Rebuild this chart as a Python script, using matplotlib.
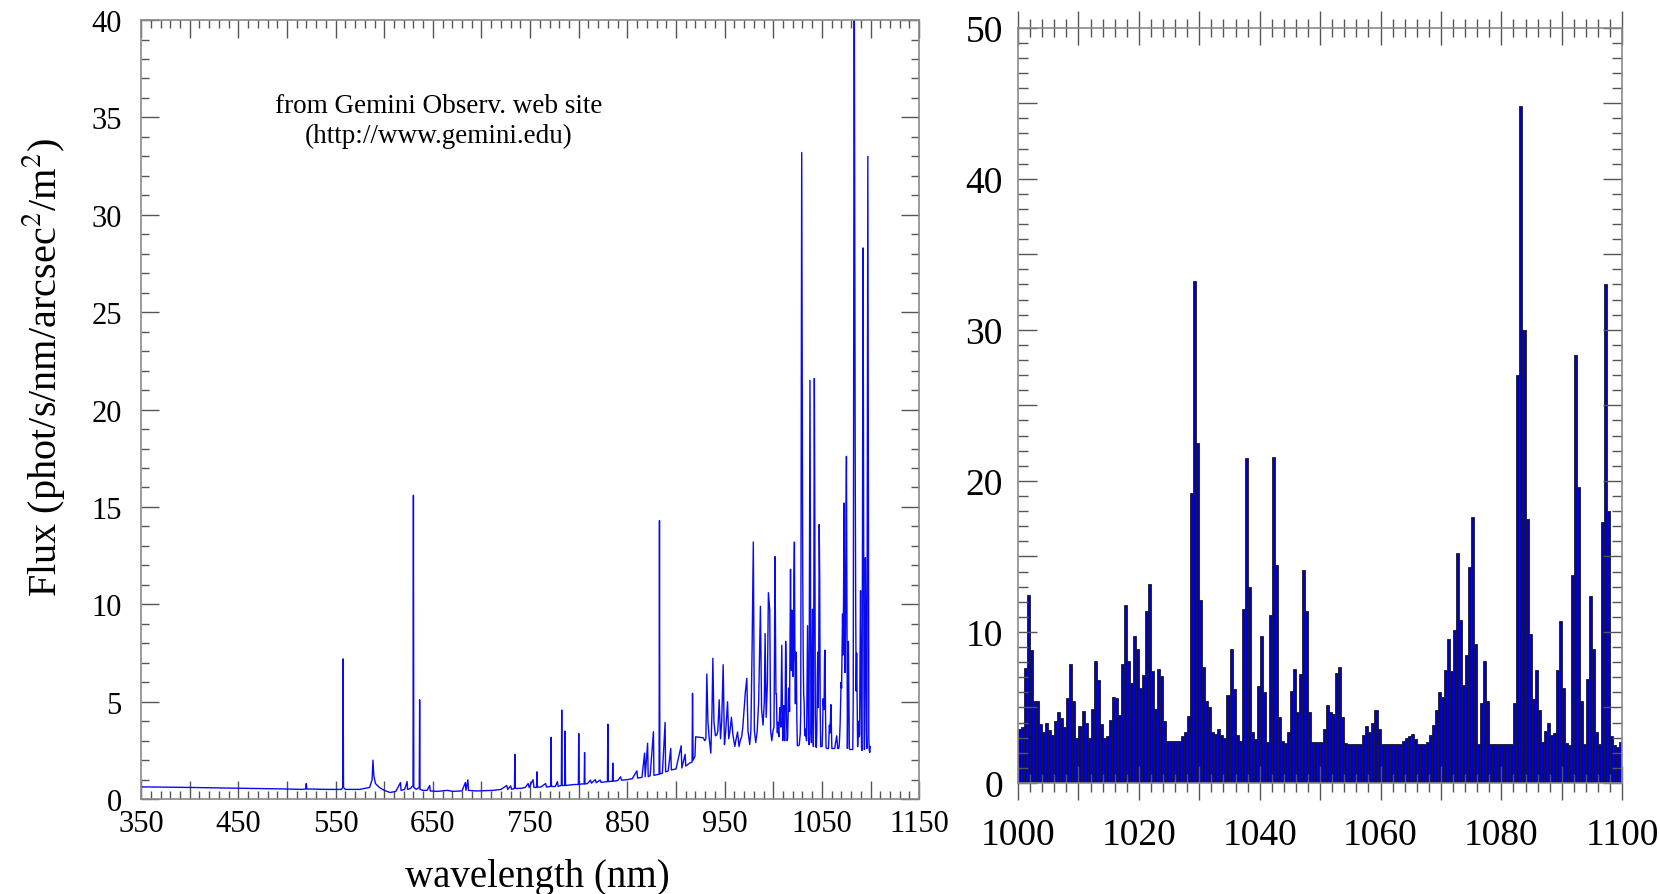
import numpy as np
from matplotlib import pyplot as plt
from matplotlib.ticker import MultipleLocator, FuncFormatter

plt.rcParams['font.family'] = ['Liberation Serif', 'DejaVu Serif']
plt.rcParams['mathtext.fontset'] = 'stix'

# sky spectrum 350-1000 nm (nm, flux)
wl_left = [
    350, 400, 450, 500, 515, 519.2, 519.8, 520.4, 540, 556, 557.3, 557.7, 558.1,
    560, 575, 585, 587.5, 588.4, 589.3, 591, 595, 600, 606, 612, 616.7, 617.3,
    621, 623.5, 624, 627, 629.6, 630.0, 630.4, 633, 636.0, 636.4, 636.8, 640,
    644, 646.7, 647.3, 655, 665, 670, 680, 683.4, 684, 686, 686.6, 695, 700,
    712, 720, 726, 727, 730, 731, 733.9, 734.3, 734.7, 740, 745, 748, 749, 753,
    754, 756.6, 757, 757.5, 761, 766, 766.8, 771.1, 771.5, 771.9, 776, 778,
    778.8, 782.1, 782.5, 782.9, 785.6, 786, 786.4, 790, 795, 799.6, 800, 800.4,
    803, 805.6, 806, 806.4, 809, 812, 813, 817, 818, 822, 823, 829.5, 829.9,
    830.3, 834.6, 835, 835.4, 840, 843, 844, 850, 855, 859.8, 860.5, 865,
    867.7, 868.3, 870.8, 871.4, 873.4, 876.8, 877.3, 880, 882.6, 883.0, 883.4,
    886, 888.8, 889.3, 892, 894.6, 895.2, 900, 905.3, 906, 909.4, 910, 914,
    916.5, 917.0, 917.6, 919.5, 920.2, 928, 929.5, 930.7, 931.7, 932.8, 934,
    935.8, 937.0, 937.9, 939, 940.5, 942, 943, 944.4, 945.8, 947, 948.5, 949.8,
    951, 953, 954.2, 955.5, 957, 958.5, 960.5, 961.5, 963.3, 964.8, 966, 967.5,
    968.7, 970, 971.3, 972.8, 974, 975.8, 977, 978.3, 979.5, 980.6, 982, 983.5,
    985, 986.8, 988, 989.5, 990.8, 991.6, 992.7, 994, 995.0, 996.4, 997.3,
    998.5, 999.7,
]
flux_left = [
    0.63, 0.6, 0.56, 0.52, 0.5, 0.52, 0.8, 0.52, 0.5, 0.5, 0.6, 7.2, 0.6,
    0.5, 0.5, 0.6, 1.0, 2.0, 1.2, 0.8, 0.6, 0.45, 0.34, 0.4, 0.85, 0.45,
    0.5, 0.9, 0.5, 0.55, 0.7, 15.6, 0.6, 0.5, 0.6, 5.1, 0.5, 0.45,
    0.45, 0.7, 0.42, 0.4, 0.45, 0.4, 0.42, 0.85, 0.45, 0.99, 0.45, 0.42, 0.43,
    0.45, 0.5, 0.7, 0.5, 0.68, 0.5, 0.55, 2.3, 0.55, 0.55, 0.6, 0.8, 0.6, 1.0,
    0.6, 0.6, 1.4, 0.62, 0.62, 0.8, 0.62, 0.65, 3.17, 0.65, 0.65, 0.9,
    0.66, 0.7, 4.57, 0.7, 0.7, 3.49, 0.7, 0.72, 0.75, 0.75, 3.37, 0.75,
    0.78, 0.78, 2.39, 0.78, 0.8, 0.98, 0.82, 1.0, 0.84, 0.98, 0.86, 0.9, 3.85,
    0.9, 0.92, 1.85, 0.92, 0.95, 1.15, 0.97, 1.0, 1.05, 1.45, 1.08, 1.12,
    2.36, 1.15, 2.87, 1.15, 1.2, 3.46, 1.22, 1.25, 1.28, 14.3, 1.3,
    1.33, 3.94, 1.4, 1.45, 2.6, 1.5, 1.55, 2.74, 1.6, 2.3, 1.7, 1.85,
    1.9, 5.43, 2.0, 2.2, 3.2, 3.15, 3.0, 3.1, 6.42, 4.0, 3.2,
    2.36, 4.5, 7.23, 4.0, 3.25, 3.3, 3.5, 5.1, 3.1, 4.0, 6.9, 2.8,
    3.4, 5.0, 3.1, 3.5, 4.2, 3.3, 2.7, 3.0, 3.45, 2.7, 3.0, 3.2,
    3.7, 4.6, 5.5, 6.2, 3.5, 2.8, 3.5, 8.0, 13.2, 3.5, 2.9, 3.5,
    5.0, 9.9, 4.6, 3.8, 5.0, 8.5, 4.2, 6.0, 10.6, 9.7, 3.5,
    3.0, 3.5,
]

# 0.5 nm bins 1000-1100 nm (right panel), one row per 10 nm
bin_start = np.arange(1000, 1100, 0.5)
bin_flux = [
    3.6, 3.7, 7.6, 12.45, 8.8, 5.4, 5.4, 3.9, 3.4, 3.95, 3.5, 3.2, 4.1, 4.7, 4.3, 3.7, 5.6, 7.9, 5.4, 3.0,
    3.75, 4.8, 4.0, 3.0, 4.9, 8.1, 6.8, 3.9, 3.0, 3.1, 4.2, 5.7, 5.6, 4.5, 7.9, 11.8, 8.1, 6.6, 9.7, 8.9,
    6.3, 7.15, 11.4, 13.2, 7.4, 4.9, 7.55, 7.1, 4.1, 2.75, 2.75, 2.75, 2.75, 2.8, 3.1, 3.35, 4.45, 19.2, 33.2, 22.5,
    12.1, 7.7, 5.4, 5.0, 3.4, 3.25, 3.6, 3.2, 3.0, 5.8, 8.9, 6.2, 3.2, 2.8, 11.5, 21.5, 12.95, 3.4, 2.9, 6.45,
    9.75, 6.0, 2.7, 11.1, 21.6, 14.4, 4.4, 2.75, 2.65, 3.35, 6.1, 7.55, 4.7, 7.2, 14.1, 11.4, 4.7, 2.7, 2.7, 2.7,
    2.7, 3.6, 5.15, 4.7, 4.6, 7.3, 7.65, 4.35, 2.65, 2.6, 2.6, 2.6, 2.6, 2.6, 3.2, 3.8, 3.4, 4.0, 4.85, 3.6,
    2.6, 2.6, 2.6, 2.6, 2.6, 2.6, 2.6, 2.8, 2.95, 3.1, 3.25, 2.9, 2.6, 2.6, 2.6, 2.7, 3.2, 3.85, 4.85, 6.0,
    5.7, 7.45, 9.5, 7.4, 10.1, 15.2, 10.8, 6.5, 8.5, 14.3, 17.6, 9.2, 2.6, 5.3, 8.1, 5.4, 2.6, 2.55, 2.55, 2.55,
    2.55, 2.55, 2.55, 2.55, 5.3, 27.0, 44.8, 30.0, 17.5, 9.85, 5.55, 7.5, 4.85, 2.7, 3.45, 4.0, 3.2, 3.3, 7.5, 10.7,
    6.3, 2.65, 2.5, 13.8, 28.3, 19.6, 5.4, 2.55, 6.9, 12.4, 8.9, 3.4, 2.6, 17.3, 33.0, 18.0, 3.1, 2.5, 2.4, 2.7,
]

SPINE = '#8a8a8a'
TICK = '#555555'


def style_box(ax):
    for s in ax.spines.values():
        s.set_color(SPINE)
        s.set_linewidth(1.2)


def draw_left(fig):
    ax = fig.add_axes([0.085, 0.106, 0.4687, 0.8705])
    wl = list(wl_left) + list(bin_start + 0.25)
    fl = list(flux_left) + list(bin_flux)
    ax.plot(wl, fl, color='#0a0af0', lw=1.0)
    ax.set_xlim(350, 1150)
    ax.set_ylim(0, 40)
    style_box(ax)

    ax.xaxis.set_major_locator(MultipleLocator(50))
    ax.xaxis.set_minor_locator(MultipleLocator(10))
    ax.xaxis.set_major_formatter(FuncFormatter(
        lambda v, p: "{:d}".format(int(v)) if (v - 350) % 100 == 0 else ""))
    ax.yaxis.set_major_locator(MultipleLocator(5))
    ax.yaxis.set_minor_locator(MultipleLocator(1))
    ax.tick_params(which='both', direction='in', top=True, right=True,
                   color=TICK, width=1.0, labelsize=22)
    ax.tick_params(which='major', length=13)
    ax.tick_params(which='minor', length=6)
    ax.tick_params(axis='x', pad=7)
    ax.tick_params(axis='y', pad=14)

    ax.text(0.383, 0.871, "from Gemini Observ. web site\n(http://www.gemini.edu)",
            transform=ax.transAxes, ha='center', va='center',
            multialignment='center', fontsize=19.5, linespacing=1.25)

    fig.text(0.3236, 0.019, "wavelength (nm)", ha='center', va='center', fontsize=28)
    fig.text(0.0265, 0.59, r"Flux (phot/s/nm/arcsec$^2$/m$^2$)",
             rotation=90, ha='center', va='center', fontsize=29)


def draw_right(fig):
    ax = fig.add_axes([0.6133, 0.124, 0.3639, 0.844])
    ax.bar(bin_start, bin_flux, width=0.5, align='edge',
           facecolor='#0000c8', edgecolor='#1a1a1a', linewidth=0.6)
    ax.set_xlim(1000, 1100)
    ax.set_ylim(0, 50)
    style_box(ax)

    ax.xaxis.set_major_locator(MultipleLocator(10))
    ax.xaxis.set_minor_locator(MultipleLocator(2))
    ax.xaxis.set_major_formatter(FuncFormatter(
        lambda v, p: "{:d}".format(int(v)) if v % 20 == 0 else ""))
    ax.yaxis.set_major_locator(MultipleLocator(5))
    ax.yaxis.set_minor_locator(MultipleLocator(1))
    ax.yaxis.set_major_formatter(FuncFormatter(
        lambda v, p: "{:d}".format(int(v)) if v % 10 == 0 else ""))

    ax.tick_params(axis='x', which='both', direction='inout', top=True,
                   color=TICK, width=1.0, labelsize=27)
    ax.tick_params(axis='x', which='major', length=25, pad=12)
    ax.tick_params(axis='x', which='minor', length=13)
    ax.tick_params(axis='y', which='both', direction='in', right=True,
                   color=TICK, width=1.0, labelsize=27, pad=11)
    ax.tick_params(axis='y', which='major', length=14)
    ax.tick_params(axis='y', which='minor', length=7)


def main():
    fig = plt.figure(figsize=(16.6, 8.95), dpi=100)
    draw_left(fig)
    draw_right(fig)
    fig.savefig("out.png", dpi=100, facecolor='white')


if __name__ == "__main__":
    main()
